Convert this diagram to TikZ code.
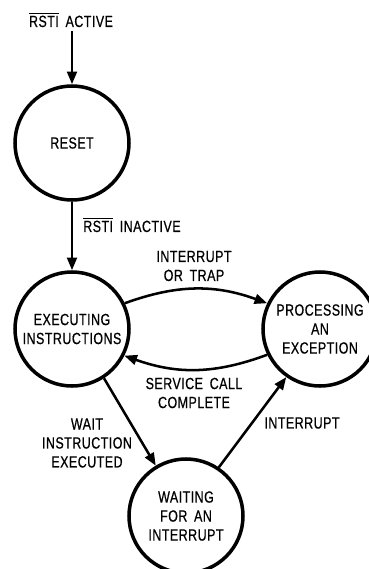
\documentclass[tikz,border=0pt]{standalone}
\usepackage{fontspec}
\setmainfont{Liberation Sans}[FakeStretch=0.77,LetterSpace=3,FakeBold=0.6,WordSpace=1.7]
\usepackage{tikz}
\usetikzlibrary{arrows.meta}
\tikzset{>={Triangle[length=9pt,width=7pt]}}
\tikzset{
  state/.style={
    draw,circle,line width=2.5pt,inner sep=0pt,minimum size=2.85cm,
    align=center,font=\fontsize{11.5}{13.5}\selectfont}}
\tikzset{
  trans/.style={->,line width=1.8pt}}
\tikzset{
  lbl/.style={align=center,inner sep=0pt,font=\fontsize{11.5}{13.5}\selectfont}}

\begin{document}
\begin{tikzpicture}
    \useasboundingbox (0,0) rectangle (9.2,-14.225);
    \node[state](reset) at (1.8,-3.575) {RESET};
    \node[state](exec) at (1.8,-8.225) {EXECUTING\\INSTRUCTIONS};
    \node[state](proc) at (8.0,-8.225) {PROCESSING\\AN\\EXCEPTION};
    \node[state](wait) at (4.65,-12.9) {WAITING\\FOR AN\\INTERRUPT};
    \node[lbl](rstiact) at (1.775,-0.5) {$\overline{\hbox{RSTI}}$ ACTIVE};
    \node[lbl,anchor=west](rstiinact) at (2.075,-5.625) {$\overline{\hbox{RSTI}}$ INACTIVE};
    \node[lbl](inttrap) at (4.85,-6.65) {INTERRUPT\\OR TRAP};
    \node[lbl](svccall) at (4.85,-9.825) {SERVICE CALL\\COMPLETE};
    \node[lbl](waitinstr) at (2.175,-11.075) {WAIT\\INSTRUCTION\\EXECUTED};
    \node[lbl](intr) at (7.55,-10.575) {INTERRUPT};
    \draw[trans] (rstiact.south -| reset.north) ++(0,-0.1) -- (reset.north);
    \draw[trans] (reset) -- (exec);
    \draw[trans] (exec.26) to[bend left=20] (proc.154);
    \draw[trans] (proc.206) to[bend left=20] (exec.333);
    \draw[trans] (exec.-57) -- (wait.121);
    \draw[trans] (wait.56) -- (proc.235);
\end{tikzpicture}
\end{document}
